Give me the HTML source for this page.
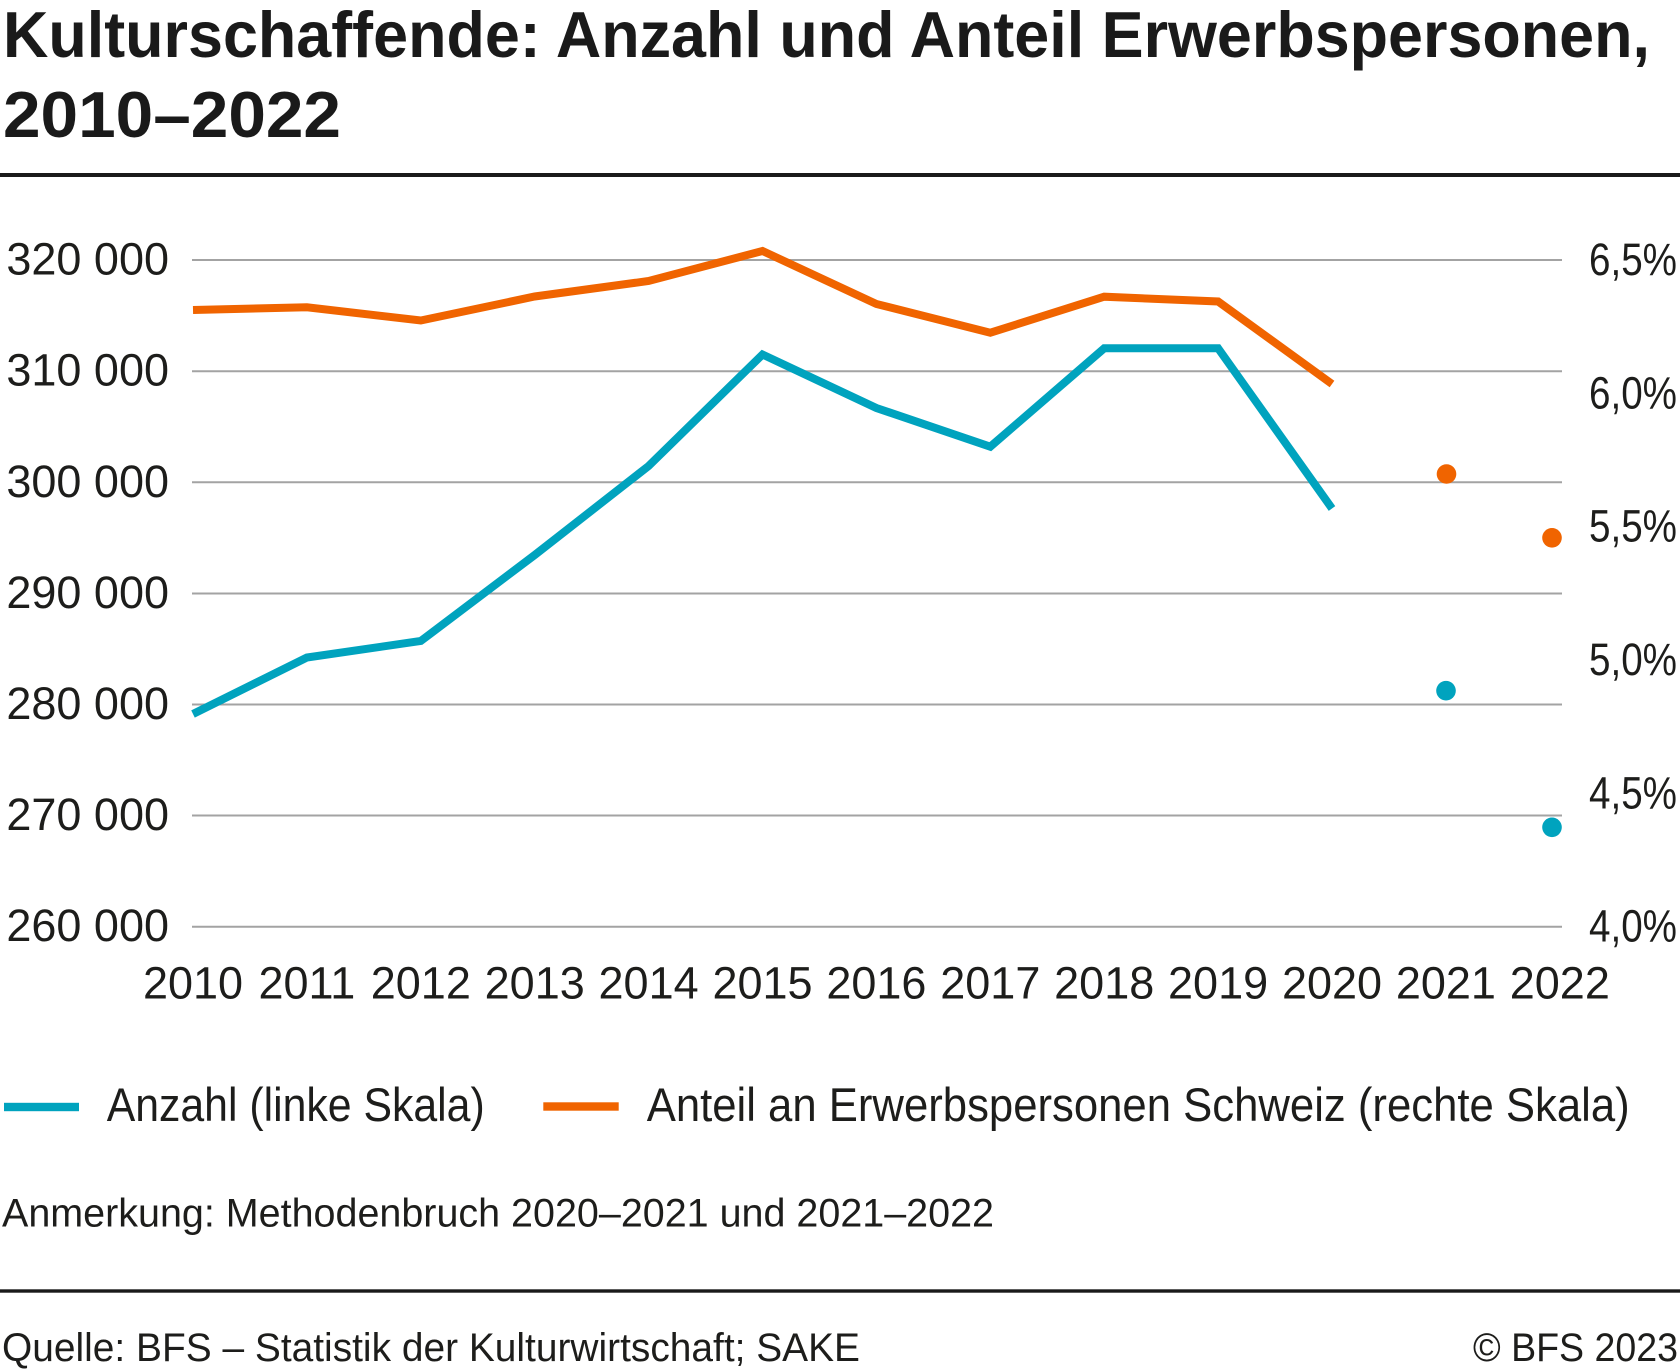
<!DOCTYPE html>
<html>
<head>
<meta charset="utf-8">
<style>
  html, body { margin: 0; padding: 0; background: #ffffff; }
  svg { display: block; }
  text { font-family: "Liberation Sans", "DejaVu Sans", sans-serif; fill: #1d1d1b; }
</style>
</head>
<body>
<svg width="1680" height="1371" viewBox="0 0 1680 1371" xmlns="http://www.w3.org/2000/svg">
  <rect x="0" y="0" width="1680" height="1371" fill="#ffffff"/>

  <!-- Title -->
  <text x="3" y="57" font-size="65" font-weight="bold" textLength="1647" lengthAdjust="spacingAndGlyphs" style="fill:#1a1a1a">Kulturschaffende: Anzahl und Anteil Erwerbspersonen,</text>
  <text x="3" y="137" font-size="65" font-weight="bold" textLength="338" lengthAdjust="spacingAndGlyphs" style="fill:#1a1a1a">2010–2022</text>

  <!-- Top rule -->
  <rect x="0" y="173" width="1680" height="4" fill="#1a1a1a"/>

  <!-- Gridlines -->
  <g stroke="#a3a3a3" stroke-width="2">
    <line x1="192" y1="260" x2="1562" y2="260"/>
    <line x1="192" y1="371.2" x2="1562" y2="371.2"/>
    <line x1="192" y1="482.3" x2="1562" y2="482.3"/>
    <line x1="192" y1="593.5" x2="1562" y2="593.5"/>
    <line x1="192" y1="704.5" x2="1562" y2="704.5"/>
    <line x1="192" y1="815.5" x2="1562" y2="815.5"/>
    <line x1="192" y1="926.7" x2="1562" y2="926.7"/>
  </g>

  <!-- Left axis labels -->
  <g font-size="45" text-anchor="end">
    <text x="169" y="274.5">320 000</text>
    <text x="169" y="385.7">310 000</text>
    <text x="169" y="496.8">300 000</text>
    <text x="169" y="608">290 000</text>
    <text x="169" y="719">280 000</text>
    <text x="169" y="830">270 000</text>
    <text x="169" y="941.2">260 000</text>
  </g>

  <!-- Right axis labels -->
  <g font-size="45">
    <text x="1589" y="275" textLength="88" lengthAdjust="spacingAndGlyphs">6,5%</text>
    <text x="1589" y="408.3" textLength="88" lengthAdjust="spacingAndGlyphs">6,0%</text>
    <text x="1589" y="541.7" textLength="88" lengthAdjust="spacingAndGlyphs">5,5%</text>
    <text x="1589" y="675" textLength="88" lengthAdjust="spacingAndGlyphs">5,0%</text>
    <text x="1589" y="808.3" textLength="88" lengthAdjust="spacingAndGlyphs">4,5%</text>
    <text x="1589" y="941.7" textLength="88" lengthAdjust="spacingAndGlyphs">4,0%</text>
  </g>

  <!-- X axis labels -->
  <g font-size="45" text-anchor="middle">
    <text x="193" y="998.5">2010</text>
    <text x="306.9" y="998.5">2011</text>
    <text x="420.8" y="998.5">2012</text>
    <text x="534.7" y="998.5">2013</text>
    <text x="648.6" y="998.5">2014</text>
    <text x="762.5" y="998.5">2015</text>
    <text x="876.4" y="998.5">2016</text>
    <text x="990.3" y="998.5">2017</text>
    <text x="1104.2" y="998.5">2018</text>
    <text x="1218.1" y="998.5">2019</text>
    <text x="1332" y="998.5">2020</text>
    <text x="1445.9" y="998.5">2021</text>
    <text x="1559.8" y="998.5">2022</text>
  </g>

  <!-- Orange series (Anteil) -->
  <polyline fill="none" stroke="#f06400" stroke-width="8" stroke-linejoin="miter" stroke-linecap="butt"
    points="193,310 306.9,307.3 420.8,320.5 534.7,296.5 648.6,281 762.5,251 876.4,304 990.3,332.7 1104.2,296.7 1218.1,301.5 1332,384"/>

  <!-- Teal series (Anzahl) -->
  <polyline fill="none" stroke="#00a3be" stroke-width="8" stroke-linejoin="miter" stroke-linecap="butt"
    points="193,714 306.9,657.5 420.8,641 534.7,555 648.6,466 762.5,354.5 876.4,408 990.3,446.7 1104.2,348.3 1218.1,348.3 1332,508.5"/>

  <!-- Dots 2021 / 2022 -->
  <circle cx="1446.5" cy="474" r="9.8" fill="#f06400"/>
  <circle cx="1552" cy="537.8" r="9.8" fill="#f06400"/>
  <circle cx="1446" cy="690.7" r="9.8" fill="#00a3be"/>
  <circle cx="1552" cy="827.3" r="9.8" fill="#00a3be"/>

  <!-- Legend -->
  <rect x="4" y="1102.8" width="75" height="8.4" fill="#00a3be"/>
  <text x="106.7" y="1121" font-size="47" textLength="378" lengthAdjust="spacingAndGlyphs">Anzahl (linke Skala)</text>
  <rect x="543.3" y="1102.3" width="75.4" height="8.4" fill="#f06400"/>
  <text x="646.7" y="1121" font-size="47" textLength="983" lengthAdjust="spacingAndGlyphs">Anteil an Erwerbspersonen Schweiz (rechte Skala)</text>

  <!-- Note -->
  <text x="2" y="1226.7" font-size="39.5" textLength="992" lengthAdjust="spacingAndGlyphs">Anmerkung: Methodenbruch 2020–2021 und 2021–2022</text>

  <!-- Bottom rule -->
  <rect x="0" y="1289.3" width="1680" height="3.4" fill="#1a1a1a"/>

  <!-- Footer -->
  <text x="2" y="1361" font-size="39.5" textLength="858" lengthAdjust="spacingAndGlyphs">Quelle: BFS – Statistik der Kulturwirtschaft; SAKE</text>
  <text x="1678" y="1361" font-size="39.5" text-anchor="end" textLength="205" lengthAdjust="spacingAndGlyphs">© BFS 2023</text>
</svg>
</body>
</html>
